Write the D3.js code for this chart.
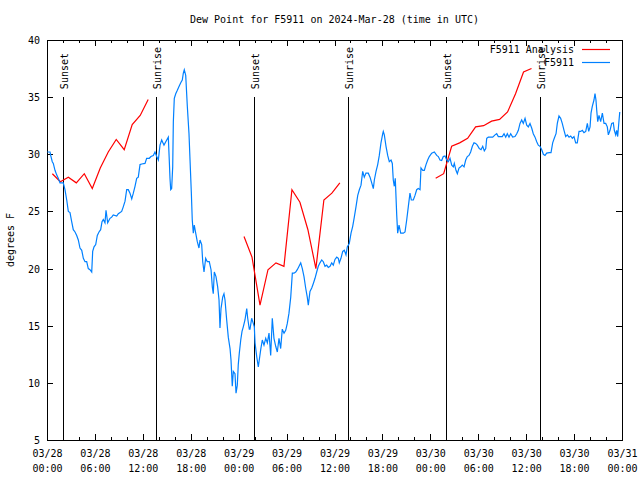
<!DOCTYPE html>
<html><head><meta charset="utf-8">
<script src="https://cdn.jsdelivr.net/npm/d3@7"></script>
<style>
body{margin:0;background:#fff}
svg{display:block}
text{font-family:"DejaVu Sans Mono","Liberation Mono",monospace;font-size:10px;fill:#000}
</style>
</head><body>
<svg id="c" width="640" height="480"></svg>
<script>
const title = "Dew Point for F5911 on 2024-Mar-28 (time in UTC)";
const yLabel = "degrees F";
const yTicks = [5, 10, 15, 20, 25, 30, 35, 40];
const seriesNames = ["F5911 Analysis", "F5911"];
const seriesColors = ["#ff0000", "#0080ff"];
const startUTC = Date.UTC(2024, 2, 28, 0, 0);
const spanHours = 72;
const majorTickHours = [0, 6, 12, 18, 24, 30, 36, 42, 48, 54, 60, 66, 72];
const minorTickHours = d3.range(0, 73, 2);

const sunHours = [2.0, 13.65, 25.92, 37.69, 49.96, 61.74];
const sunLabels = ["Sunset", "Sunrise", "Sunset", "Sunrise", "Sunset", "Sunrise"];

// F5911 Analysis (hourly, with gaps)
const anaHours = [0.67,1.67,2.67,3.67,4.67,5.67,6.67,7.67,8.67,9.67,10.67,11.67,12.67, null,
  24.67,25.67,26.67,27.67,28.67,29.67,30.67,31.67,32.67,33.67,34.67,35.67,36.67, null,
  48.67,49.67,50.67,51.67,52.67,53.67,54.67,55.67,56.67,57.67,58.67,59.67,60.67];
const anaValues = [28.3,27.6,28.0,27.5,28.3,27.0,28.8,30.2,31.3,30.4,32.6,33.4,34.8, null,
  22.8,21.0,16.8,19.9,20.5,20.2,26.9,25.8,23.4,20.0,26.0,26.6,27.5, null,
  27.9,28.3,30.7,31.0,31.4,32.4,32.5,32.9,33.05,33.7,35.3,37.2,37.5];

// F5911 observations
const obsHours = [0.04,0.38,0.46,0.66,0.79,1.0,1.21,1.41,1.63,1.84,2.04,2.25,2.47,2.67,2.88,3.09,3.29,3.51,3.72,3.92,
4.13,4.35,4.55,4.76,4.97,5.17,5.38,5.60,5.72,5.89,6.10,6.30,6.51,6.72,6.89,7.05,7.26,7.39,7.60,7.89,
8.10,8.30,8.73,8.93,9.35,9.55,9.77,9.98,10.18,10.39,10.61,10.81,11.02,11.23,11.43,11.65,11.86,12.27,12.48,12.81,
13.02,13.31,13.52,13.74,13.94,14.15,14.36,14.65,14.99,15.19,15.31,15.40,15.49,15.61,15.74,15.82,15.94,16.12,16.32,16.57,
16.78,16.94,17.07,17.19,17.37,17.57,17.78,17.91,18.07,18.19,18.32,18.44,18.62,18.82,19.03,19.16,19.37,19.50,19.66,19.87,
20.07,20.32,20.54,20.70,20.82,20.95,21.16,21.37,21.54,21.66,21.79,22.00,22.16,22.29,22.50,22.70,22.92,23.04,23.20,23.33,
23.54,23.67,23.83,23.95,24.08,24.26,24.42,24.58,24.79,25.01,25.13,25.33,25.42,25.63,25.83,25.96,26.05,26.26,26.46,26.58,
26.76,26.96,27.17,27.39,27.59,27.80,28.01,28.21,28.42,28.64,28.84,29.05,29.26,29.46,29.68,29.89,30.09,30.30,30.52,30.72,
30.93,31.14,31.34,31.56,31.77,31.97,32.18,32.39,32.59,32.72,32.93,33.15,33.35,33.56,33.77,33.97,34.18,34.40,34.60,34.81,
35.02,35.22,35.44,35.65,35.85,36.06,36.28,36.48,36.60,36.81,37.03,37.23,37.44,37.60,37.85,38.07,38.28,38.48,38.69,38.91,
39.11,39.32,39.53,39.73,39.94,40.23,40.45,40.66,40.86,40.99,41.20,41.41,41.61,41.82,42.04,42.11,42.24,42.45,42.66,42.86,
43.08,43.24,43.36,43.49,43.61,43.79,43.91,44.08,44.29,44.62,44.83,45.04,45.24,45.45,45.62,45.87,46.08,46.29,46.49,46.71,
46.83,47.05,47.25,47.46,47.67,47.87,48.17,48.50,48.80,49.00,49.21,49.42,49.62,49.84,50.05,50.25,50.46,50.68,50.88,51.00,
51.21,51.38,51.59,51.80,52.00,52.22,52.43,52.63,52.84,53.05,53.26,53.47,53.68,53.88,54.13,54.35,54.56,54.76,54.94,55.06,
55.26,55.47,55.81,56.10,56.31,56.51,56.81,57.01,57.23,57.44,57.64,57.85,58.06,58.31,58.60,58.82,59.02,59.23,59.44,59.64,
59.86,60.07,60.27,60.48,60.69,60.89,61.11,61.32,61.52,61.73,61.95,62.15,62.36,62.57,62.90,63.11,63.32,63.52,63.74,63.90,
64.11,64.32,64.52,64.74,64.95,65.15,65.37,65.58,65.78,65.99,66.20,66.40,66.62,66.83,67.03,67.24,67.46,67.66,67.83,68.00,
68.12,68.28,68.49,68.62,68.74,68.83,68.96,69.12,69.33,69.54,69.75,69.96,70.16,70.29,70.50,70.71,70.91,71.04,71.21,71.34,
71.46,71.63,71.72];
const obsValues = [30.2,30.2,29.9,29.35,29.2,28.6,28.2,27.9,27.5,27.5,27.5,26.9,26.0,25.0,24.9,24.1,23.4,23.2,22.9,22.5,
21.8,21.6,20.9,20.6,20.6,20.0,19.9,19.7,21.5,21.9,22.1,22.9,23.2,23.4,24.1,24.3,24.0,25.1,24.0,24.4,
24.5,24.7,24.6,24.8,25.0,25.4,25.9,26.9,26.9,26.6,26.1,26.6,27.2,27.9,28.0,29.1,29.15,29.2,29.65,29.65,
29.8,29.9,30.2,29.8,29.5,30.8,31.25,30.8,31.25,31.5,29.5,27.9,26.9,27.0,28.9,32.85,34.9,35.3,35.6,36.0,
36.3,36.5,37.1,37.4,36.9,34.2,31.8,29.5,26.7,24.25,23.1,23.8,23.1,22.35,21.8,22.5,22.1,20.6,19.7,20.9,
20.6,20.6,19.9,18.4,17.8,19.7,19.3,18.4,17.25,14.8,16.5,17.5,17.8,17.25,15.5,14.0,13.0,12.0,9.7,11.0,
10.8,9.1,9.8,11.6,12.6,13.75,14.5,14.9,15.5,16.5,15.65,14.7,14.7,15.65,15.2,14.9,13.5,12.3,11.4,12.0,
12.9,13.75,13.3,13.9,13.5,14.35,12.4,15.65,13.9,13.2,12.7,13.9,13.0,14.7,14.35,14.6,15.2,16.1,17.5,19.6,
19.6,19.7,19.9,20.2,20.5,20.0,19.3,18.3,17.5,16.8,18.0,18.3,18.7,19.15,19.7,20.2,20.5,20.75,20.6,20.2,
20.3,20.1,20.2,20.5,20.3,20.8,21.0,20.9,20.5,20.9,21.5,21.6,21.2,21.9,22.2,23.1,23.7,24.5,25.4,26.4,
26.9,27.3,28.5,28.0,28.35,28.35,28.0,27.5,27.0,27.75,28.5,29.1,29.9,31.0,31.8,32.0,31.7,30.7,29.9,29.35,
29.5,29.2,27.75,27.2,27.9,24.7,23.1,23.8,23.1,23.1,23.2,24.25,25.4,26.6,26.0,26.0,26.4,26.9,27.0,26.9,
28.8,28.6,28.6,29.1,29.5,29.8,30.1,30.2,29.9,29.8,29.5,29.45,29.8,29.85,29.5,29.35,29.65,29.05,28.9,29.2,
28.6,28.3,28.8,28.9,29.05,28.9,29.5,29.8,29.9,30.2,30.7,31.0,30.95,30.8,30.5,30.4,30.7,30.3,30.5,31.4,
31.5,31.5,31.5,31.7,31.8,31.55,31.55,31.55,31.8,31.5,31.8,31.5,31.8,31.5,31.55,31.8,32.1,32.7,33.0,32.7,
33.15,32.55,32.4,32.7,32.3,31.8,31.5,31.1,30.8,30.7,30.4,30.0,29.9,30.1,30.15,30.15,31.0,31.4,31.8,32.7,
33.35,33.15,32.7,32.1,31.55,31.7,31.5,31.6,31.4,31.55,31.0,31.0,32.0,32.0,32.1,31.9,32.0,32.7,32.0,32.4,
33.6,34.2,34.75,35.3,34.75,33.9,32.85,33.4,32.85,33.6,32.7,32.7,32.4,31.7,32.1,32.7,32.75,32.1,31.7,32.1,
31.55,33.0,33.7];

const W = 640, H = 480;
const M = {left: 47, right: 622, top: 40, bottom: 440};
const toDate = h => new Date(startUTC + h * 3600e3);

const svg = d3.select("#c");
const x = d3.scaleUtc().domain([toDate(0), toDate(spanHours)]).range([M.left, M.right]);
const y = d3.scaleLinear().domain([5, 40]).range([M.bottom, M.top]);

const fmtD = d3.utcFormat("%m/%d"), fmtT = d3.utcFormat("%H:%M");

// bottom axis (major)
const gB = svg.append("g").attr("transform", `translate(0,${M.bottom})`)
  .call(d3.axisBottom(x).tickValues(majorTickHours.map(toDate)).tickSize(-6).tickPadding(0).tickFormat(""));
gB.selectAll(".tick text").remove();
gB.selectAll(".tick").each(function(d){
  const t = d3.select(this).append("text").attr("text-anchor","middle").attr("fill","#000");
  t.append("tspan").attr("x",0).attr("y",17).text(fmtD(d));
  t.append("tspan").attr("x",0).attr("y",32).text(fmtT(d));
});
// minor bottom
svg.append("g").attr("transform", `translate(0,${M.bottom})`)
  .call(d3.axisBottom(x).tickValues(minorTickHours.map(toDate)).tickSize(-3).tickFormat(""));
// top mirror
svg.append("g").attr("transform", `translate(0,${M.top})`)
  .call(d3.axisTop(x).tickValues(majorTickHours.map(toDate)).tickSize(-6).tickFormat(""));
svg.append("g").attr("transform", `translate(0,${M.top})`)
  .call(d3.axisTop(x).tickValues(minorTickHours.map(toDate)).tickSize(-3).tickFormat(""));
// left
const gL = svg.append("g").attr("transform", `translate(${M.left},0)`)
  .call(d3.axisLeft(y).tickValues(yTicks).tickSize(-6).tickPadding(7).tickFormat(d3.format("d")));
// right mirror
svg.append("g").attr("transform", `translate(${M.right},0)`)
  .call(d3.axisRight(y).tickValues(yTicks).tickSize(-6).tickFormat(""));

svg.selectAll(".domain").remove();
svg.selectAll(".tick line").attr("stroke","#000").attr("shape-rendering","crispEdges");
svg.selectAll(".tick text").attr("font-family",null).attr("font-size",null).attr("fill","#000");
gL.selectAll(".tick text").attr("dy","0.35em");

// frame
svg.append("rect").attr("x",M.left+0.5).attr("y",M.top+0.5)
  .attr("width",M.right-M.left).attr("height",M.bottom-M.top)
  .attr("fill","none").attr("stroke","#000").attr("shape-rendering","crispEdges");

// sun lines
const sunG = svg.append("g");
sunHours.forEach((h,i) => {
  const sx = Math.round(x(toDate(h))) + 0.5;
  sunG.append("line").attr("x1",sx).attr("x2",sx).attr("y1",y(35)).attr("y2",M.bottom)
    .attr("stroke","#000").attr("shape-rendering","crispEdges");
  sunG.append("text").attr("transform",`translate(${sx+4},${y(35)-8}) rotate(-90)`)
    .attr("text-anchor","start").text(sunLabels[i]);
});

// series
const line = d3.line().defined(d => d[1] != null).x(d => x(toDate(d[0]))).y(d => y(d[1]));
const anaData = anaHours.map((h,i) => [h, anaValues[i]]);
const obsData = obsHours.map((h,i) => [h, obsValues[i]]);
svg.append("path").datum(anaData).attr("d", line).attr("fill","none")
  .attr("stroke",seriesColors[0]).attr("stroke-width",1.2);
svg.append("path").datum(obsData).attr("d", line).attr("fill","none")
  .attr("stroke",seriesColors[1]).attr("stroke-width",1.2);

// legend
seriesNames.forEach((n,i) => {
  const ly = 49.5 + i*13;
  svg.append("text").attr("x",574).attr("y",ly).attr("dy","0.35em").attr("text-anchor","end").text(n);
  svg.append("line").attr("x1",582).attr("x2",610).attr("y1",ly).attr("y2",ly)
    .attr("stroke",seriesColors[i]).attr("stroke-width",1.2);
});

// title & y label
svg.append("text").attr("x",(M.left+M.right)/2).attr("y",19).attr("dy","0.35em")
  .attr("text-anchor","middle").text(title);
svg.append("text").attr("transform",`translate(10,${(M.top+M.bottom)/2}) rotate(-90)`)
  .attr("text-anchor","middle").attr("dy","0.35em").text(yLabel);
</script>
</body></html>
